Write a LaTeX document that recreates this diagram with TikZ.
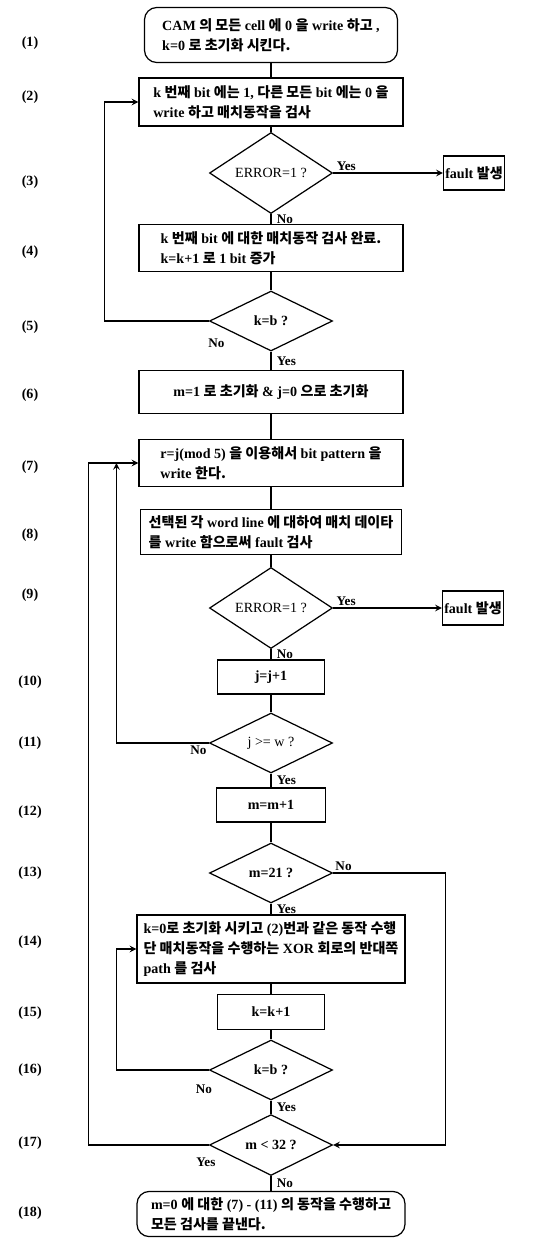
\documentclass[tikz,border=0pt]{standalone}
\usepackage{fontspec}
\setmainfont{Liberation Serif}
\newfontfamily\kr{Noto Sans CJK KR}
\newcommand{\hg}[1]{{\kr #1}}
\newcommand{\txt}{\fontsize{8}{11.5}\selectfont\bfseries}
\newcommand{\lbl}{\fontsize{7.5}{9}\selectfont\bfseries}
\usetikzlibrary{shapes.geometric}

\begin{document}
\begin{tikzpicture}[
    box/.style={draw, minimum width=5.28cm, minimum height=0.94cm, align=left, font=\txt},
    rbox/.style={box, rounded corners=7pt},
    sbox/.style={draw, minimum width=2.14cm, minimum height=0.68cm, font=\txt},
    fbox/.style={draw, minimum width=1.2cm, minimum height=0.68cm, inner sep=1pt, font=\txt},
    dec/.style={draw, diamond, inner sep=0pt, minimum width=2.46cm, minimum height=1.2cm, font=\fontsize{8}{10}\selectfont},
    num/.style={font=\txt},
    lab/.style={font=\lbl, inner sep=1pt},
    arr/.style={->, >=stealth},
    line width=0.7pt
]
\useasboundingbox (-5.42,0) rectangle (5.34,-24.76);

% first loop: one bit at a time
\node[rbox, minimum width=5.06cm, minimum height=1.1cm] (init) at (0,-0.70) {CAM \hg{의 모든} cell \hg{에} 0 \hg{을} write \hg{하고} ,\\k=0 \hg{로 초기화 시킨다.}};
\node[box, minimum height=0.96cm] (wrk) at (0,-2.04) {k \hg{번째} bit \hg{에는} 1, \hg{다른 모든} bit \hg{에는} 0 \hg{을}\\write \hg{하고 매치동작을 검사}};
\node[dec] (err1) at (0,-3.46) {ERROR=1 ?};
\node[fbox] (flt1) at (4.06,-3.46) {fault \hg{발생}};
\node[box] (chk) at (0,-4.96) {k \hg{번째} bit \hg{에 대한 매치동작 검사 완료.}\\k=k+1 \hg{로} 1 bit \hg{증가}};
\node[dec] (kb1) at (0,-6.42) {\bfseries k=b ?};

% pattern loop
\node[box, minimum height=0.86cm, align=center] (ini2) at (0,-7.84) {m=1 \hg{로 초기화} \& j=0 \hg{으로 초기화}};
\node[box] (pat) at (0,-9.26) {r=j(mod 5) \hg{을 이용해서} bit pattern \hg{을}\\write \hg{한다.}};
\node[box, minimum width=5.22cm, minimum height=0.9cm] (mat) at (0,-10.64) {\hg{선택된 각} word line \hg{에 대하여 매치 데이타}\\\hg{를} write \hg{함으로써} fault \hg{검사}};
\node[dec] (err2) at (0,-12.16) {ERROR=1 ?};
\node[fbox, minimum width=1.14cm] (flt2) at (4.04,-12.16) {fault \hg{발생}};
\node[sbox] (jinc) at (0,-13.54) {j=j+1};
\node[dec] (jw) at (0,-14.86) {j >= w ?};
\node[sbox, minimum width=2.18cm] (minc) at (0,-16.10) {m=m+1};
\node[dec] (m21) at (0,-17.46) {\bfseries m=21 ?};

% XOR path check
\node[box, minimum width=5.36cm, minimum height=1.36cm] (xor) at (0,-18.98) {k=0\hg{로 초기화 시키고} (2)\hg{번과 같은 동작 수행}\\\hg{단 매치동작을 수행하는} XOR \hg{회로의 반대쪽}\\path \hg{를 검사}};
\node[sbox, minimum height=0.7cm] (kinc) at (0,-20.24) {k=k+1};
\node[dec] (kb2) at (0,-21.40) {\bfseries k=b ?};
\node[dec] (m32) at (0,-22.90) {\bfseries m < 32 ?};
\node[rbox, minimum width=5.36cm, minimum height=0.9cm] (fin) at (0,-24.28) {m=0 \hg{에 대한} (7) - (11) \hg{의 동작을 수행하고}\\\hg{모든 검사를 끝낸다.}};

% step numbers
\node[num] (s1) at (-4.82,-0.86) {(1)};
\node[num] (s2) at (-4.82,-1.94) {(2)};
\node[num] (s3) at (-4.82,-3.64) {(3)};
\node[num] (s4) at (-4.82,-5.04) {(4)};
\node[num] (s5) at (-4.82,-6.54) {(5)};
\node[num] (s6) at (-4.82,-7.90) {(6)};
\node[num] (s7) at (-4.82,-9.34) {(7)};
\node[num] (s8) at (-4.82,-10.70) {(8)};
\node[num] (s9) at (-4.82,-11.90) {(9)};
\node[num] (s10) at (-4.82,-13.64) {(10)};
\node[num] (s11) at (-4.82,-14.86) {(11)};
\node[num] (s12) at (-4.82,-16.24) {(12)};
\node[num] (s13) at (-4.82,-17.46) {(13)};
\node[num] (s14) at (-4.82,-18.84) {(14)};
\node[num] (s15) at (-4.82,-20.26) {(15)};
\node[num] (s16) at (-4.82,-21.40) {(16)};
\node[num] (s17) at (-4.82,-22.86) {(17)};
\node[num] (s18) at (-4.82,-24.26) {(18)};

% main column
\draw (init) -- (wrk);
\draw (wrk) -- (err1);
\draw (err1) -- node[lab, right=2pt]{No} (chk);
\draw (chk) -- (kb1);
\draw (kb1) -- node[lab, right=2pt]{Yes} (ini2);
\draw (ini2) -- (pat);
\draw (pat) -- (mat);
\draw (mat) -- (err2);
\draw (err2) -- node[lab, right=2pt]{No} (jinc);
\draw (jinc) -- (jw);
\draw (jw) -- node[lab, right=2pt]{Yes} (minc);
\draw (minc) -- (m21);
\draw (m21) -- node[lab, right=2pt]{Yes} (xor);
\draw (xor) -- (kinc);
\draw (kinc) -- (kb2);
\draw (kb2) -- node[lab, right=2pt]{Yes} (m32);
\draw (m32) -- node[lab, right=2pt]{No} (fin);

% faults
\draw[arr] (err1.east) -- node[lab, above, pos=0.12]{Yes} (flt1.west);
\draw[arr] (err2.east) -- node[lab, above, pos=0.12]{Yes} (flt2.west);

% loops back
\draw[arr] (kb1.west) -- node[lab, at start, below=0.3cm, xshift=0.15cm]{No} ++(-2.09,0) |- (wrk.west);
\draw[arr] (jw.west) -- node[lab, at start, below left]{No} ++(-1.85,0) -- ++(0,5.6);
\draw[arr] (m21.east) -- node[lab, at start, above right]{No} ++(2.25,0) |- (m32.east);
\draw[arr] (kb2.west) -- node[lab, at start, below=0.25cm, xshift=-0.1cm]{No} ++(-1.85,0) |- (xor.west);
\draw[arr] (m32.west) -- node[lab, at start, below=0.2cm, xshift=-0.06cm]{Yes} ++(-2.41,0) |- (pat.west);
\end{tikzpicture}
\end{document}
